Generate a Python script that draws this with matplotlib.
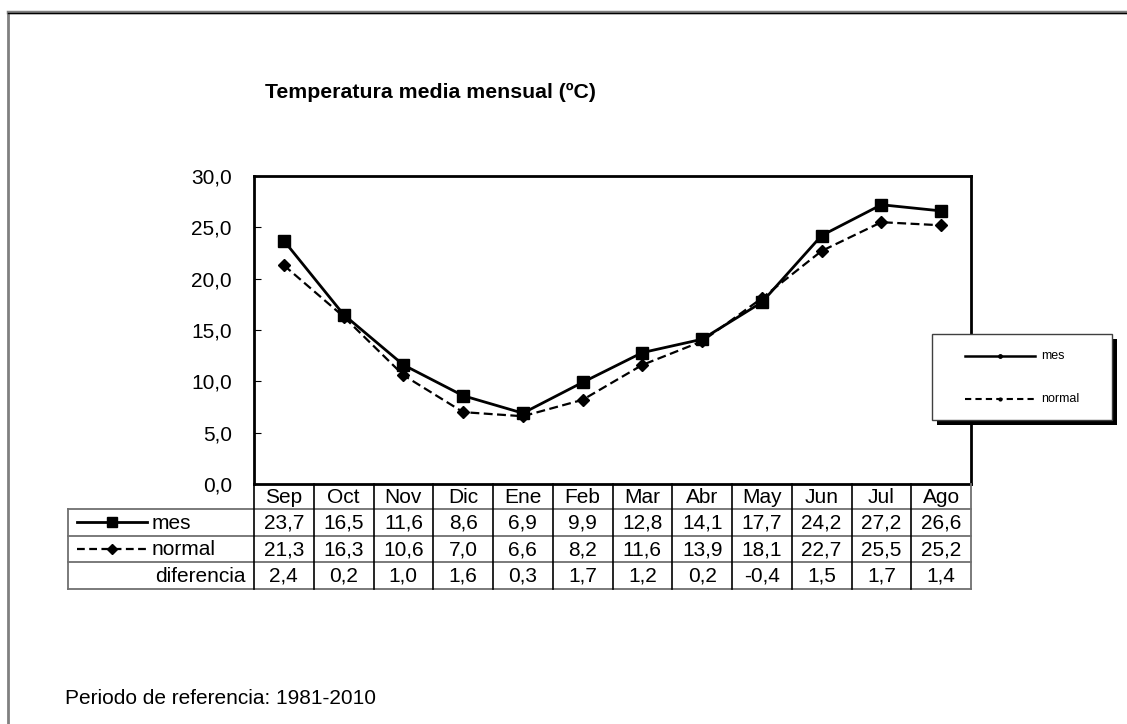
import matplotlib
matplotlib.use("Agg")
import matplotlib.pyplot as plt
from matplotlib.patches import Rectangle

plt.rcParams['font.family'] = ['Liberation Sans', 'DejaVu Sans']

# data
months = ["Sep", "Oct", "Nov", "Dic", "Ene", "Feb", "Mar", "Abr", "May", "Jun", "Jul", "Ago"]
mes = [23.7, 16.5, 11.6, 8.6, 6.9, 9.9, 12.8, 14.1, 17.7, 24.2, 27.2, 26.6]
normal = [21.3, 16.3, 10.6, 7.0, 6.6, 8.2, 11.6, 13.9, 18.1, 22.7, 25.5, 25.2]
diferencia = [2.4, 0.2, 1.0, 1.6, 0.3, 1.7, 1.2, 0.2, -0.4, 1.5, 1.7, 1.4]
yticks = [0, 5, 10, 15, 20, 25, 30]

W, H = 1127, 724
FS = 15


def fmt(v):
    return f"{v:.1f}".replace(".", ",")


dash = (0, (4, 2))
mes_style = dict(color="black", lw=2, ls="-", marker="s", ms=8.5)
norm_style = dict(color="black", lw=1.6, ls=dash, marker="D", ms=6)

fig = plt.figure(figsize=(W / 100, H / 100), dpi=100)

# background axes in pixel coordinates (y down)
bg = fig.add_axes([0, 0, 1, 1])
bg.set_xlim(0, W)
bg.set_ylim(H, 0)
bg.axis("off")

# frame of the page
bg.plot([8, 8], [12, H], color="#808080", lw=2)
bg.plot([8, W], [11.5, 11.5], color="#808080", lw=2.5)
bg.plot([8, W], [13, 13], color="black", lw=1)

# main plot area
x0, x1, y0, y1 = 254, 971, 176, 484
ax = fig.add_axes([x0 / W, 1 - y1 / H, (x1 - x0) / W, (y1 - y0) / H])
xs = list(range(len(months)))
ax.plot(xs, mes, **mes_style)
ax.plot(xs, normal, **norm_style)
ax.set_xlim(-0.5, len(months) - 0.5)
ax.set_ylim(0, 30)
ax.set_yticks(yticks)
ax.set_yticklabels([fmt(v) for v in yticks], fontsize=FS)
ax.tick_params(axis="y", direction="in", length=5, pad=16)
ax.set_xticks([])
for s in ax.spines.values():
    s.set_linewidth(2)

fig.text(430 / W, 1 - 92 / H, "Temperatura media mensual (ºC)", fontsize=15.3,
         fontweight="bold", ha="center", va="center")

# data table under the chart
colw = (x1 - x0) / len(months)
rows = [y1, 509, 535.5, 562, 589]
tx0 = 68
grid = "#707070"
for r in rows[1:]:
    bg.plot([tx0, x1], [r, r], color=grid, lw=1.3)
bg.plot([tx0, tx0], [rows[1], rows[-1]], color=grid, lw=1.3)
bg.plot([x1, x1], [rows[0], rows[-1]], color=grid, lw=1.3)
for i in range(len(months)):
    cx = x0 + i * colw
    bg.plot([cx, cx], [rows[0], rows[-1]], color="black", lw=1.2)
    xc = cx + colw / 2
    for j, txt in enumerate([months[i], fmt(mes[i]), fmt(normal[i]), fmt(diferencia[i])]):
        bg.text(xc, (rows[j] + rows[j + 1]) / 2 + 1, txt, fontsize=FS,
                ha="center", va="center")

# row labels with line keys
ym = (rows[1] + rows[2]) / 2
yn = (rows[2] + rows[3]) / 2
yd = (rows[3] + rows[4]) / 2
bg.plot([77, 112, 147], [ym, ym, ym], color="black", lw=2, marker="s", ms=7,
        markevery=[1])
bg.plot([77, 112, 147], [yn, yn, yn], color="black", lw=1.6, ls=(0, (3.5, 2)),
        marker="D", ms=5, markevery=[1])
bg.text(152, ym + 1, "mes", fontsize=FS, ha="left", va="center")
bg.text(152, yn + 1, "normal", fontsize=FS, ha="left", va="center")
bg.text(246, yd + 1, "diferencia", fontsize=FS, ha="right", va="center")

# legend box with black shadow
lx, ly, lw_, lh = 932, 334, 180, 86
bg.add_patch(Rectangle((lx + 5, ly + 5), lw_, lh, facecolor="black", zorder=5))
bg.add_patch(Rectangle((lx, ly), lw_, lh, facecolor="white", edgecolor="#404040",
                       lw=1, zorder=6))
bg.plot([965, 1000, 1035], [356, 356, 356], color="black", lw=1.8, marker="o",
        ms=2.5, markevery=[1], zorder=7)
bg.plot([965, 1000, 1035], [399, 399, 399], color="black", lw=1.5,
        ls=(0, (3, 2)), marker="o", ms=2, markevery=[1], zorder=7)
bg.text(1041, 356, "mes", fontsize=9, ha="left", va="center", zorder=7)
bg.text(1041, 399, "normal", fontsize=9, ha="left", va="center", zorder=7)

fig.text(65 / W, 1 - 699 / H, "Periodo de referencia: 1981-2010", fontsize=FS,
         ha="left", va="center")

# main axes on top of background
ax.set_zorder(2)
ax.patch.set_alpha(0)
bg.set_zorder(3)

fig.savefig("out.png", dpi=100)
